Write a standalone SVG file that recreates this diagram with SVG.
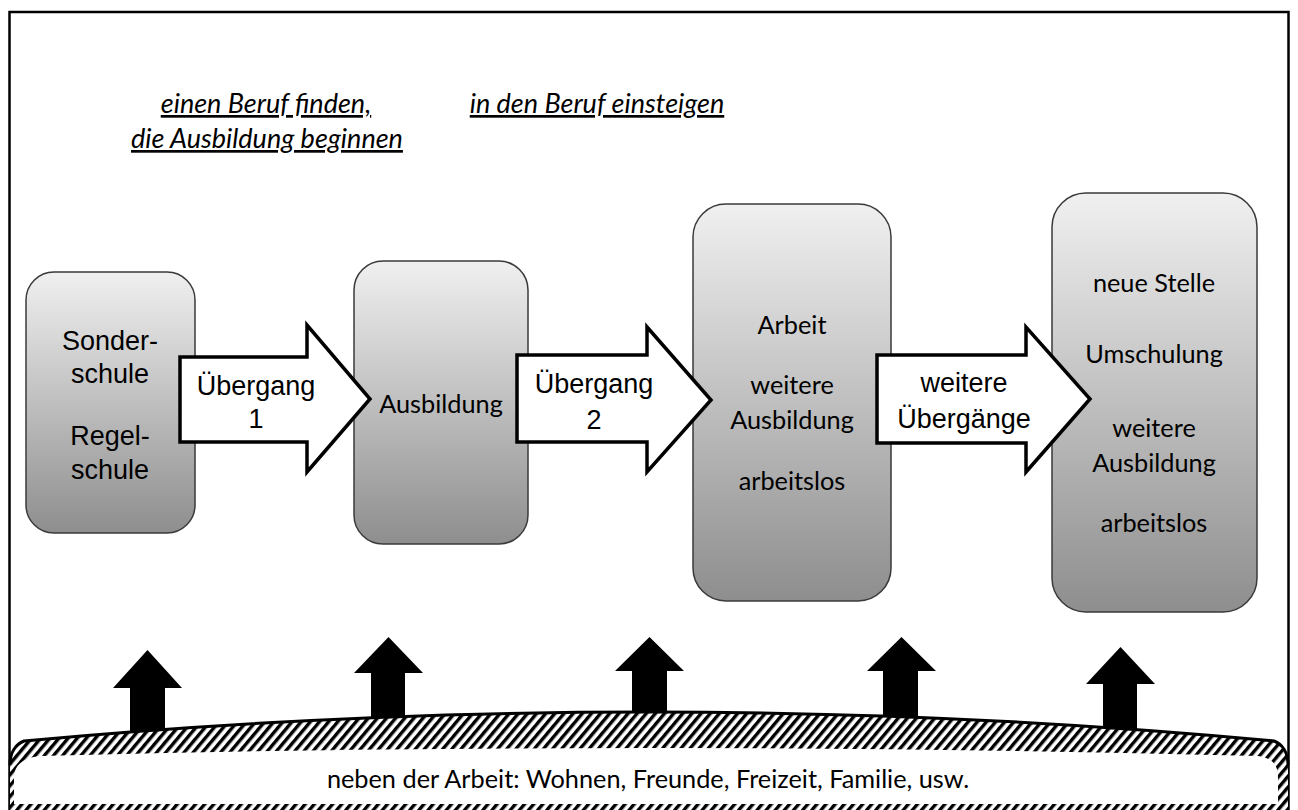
<svg xmlns="http://www.w3.org/2000/svg" width="1298" height="810" viewBox="0 0 1298 810">
<style>
.box{stroke:#3a3a3a;stroke-width:1.5;fill:url(#g)}
.arr{fill:#fff;stroke:#000;stroke-width:3.5;stroke-linejoin:miter}
.up{fill:#000}
.a{font-family:"Liberation Sans",Arial,sans-serif;font-size:27px;fill:#000;text-anchor:middle}
.c{font-family:Lato,"Open Sans",sans-serif;font-size:25.3px;fill:#000;text-anchor:middle}
.i{font-family:Lato,"Open Sans",sans-serif;font-style:italic;font-size:27px;fill:#000;text-anchor:middle;text-decoration:underline}
</style>
<defs>
<linearGradient id="g" x1="0" y1="0" x2="0" y2="1">
<stop offset="0" stop-color="#f0f0f0"/>
<stop offset="1" stop-color="#8e8e8e"/>
</linearGradient>
<pattern id="h" width="7" height="7" patternUnits="userSpaceOnUse" patternTransform="rotate(40)">
<rect width="7" height="7" fill="#fff"/>
<rect width="3.4" height="7" fill="#000"/>
</pattern>
</defs>
<rect x="0" y="0" width="1298" height="810" fill="#fff"/>
<rect id="frame" x="9.5" y="12" width="1279" height="810" fill="none" stroke="#000" stroke-width="2.5"/>
<g id="labels">
<text class="i" x="266" y="113">einen Beruf finden,</text>
<text class="i" x="267" y="148">die Ausbildung beginnen</text>
<text class="i" x="597" y="113">in den Beruf einsteigen</text>
</g>
<g id="n1">
<rect class="box" x="26" y="272" width="169" height="261" rx="28"/>
<text class="a" x="110" y="350">Sonder-</text>
<text class="a" x="110" y="383">schule</text>
<text class="a" x="110" y="445">Regel-</text>
<text class="a" x="110" y="479">schule</text>
</g>
<g id="n2">
<rect class="box" x="354" y="261" width="174" height="283" rx="29"/>
<text class="c" x="441" y="413">Ausbildung</text>
</g>
<g id="n3">
<rect class="box" x="693" y="204" width="198" height="397" rx="33"/>
<text class="c" x="792" y="334">Arbeit</text>
<text class="c" x="792" y="394">weitere</text>
<text class="c" x="792" y="429">Ausbildung</text>
<text class="c" x="792" y="490">arbeitslos</text>
</g>
<g id="n4">
<rect class="box" x="1052" y="193" width="205" height="419" rx="34"/>
<text class="c" x="1154" y="292">neue Stelle</text>
<text class="c" x="1154" y="363">Umschulung</text>
<text class="c" x="1154" y="437">weitere</text>
<text class="c" x="1154" y="472">Ausbildung</text>
<text class="c" x="1154" y="532">arbeitslos</text>
</g>
<g id="connectors">
<g id="t1">
<polygon class="arr" points="180,357 307,357 307,325 370,399 307,472 307,442 180,442"/>
<text class="a" x="256" y="395">Übergang</text>
<text class="a" x="256" y="428">1</text>
</g>
<g id="t2">
<polygon class="arr" points="517,355 647,355 647,327 711,400 647,472 647,442 517,442"/>
<text class="a" x="594" y="393">Übergang</text>
<text class="a" x="594" y="429">2</text>
</g>
<g id="t3">
<polygon class="arr" points="877,355 1026,355 1026,327 1090,399 1026,472 1026,443 877,443"/>
<text class="a" x="964" y="392">weitere</text>
<text class="a" x="964" y="428">Übergänge</text>
</g>
<polygon class="up" points="147.5,650 182,688 165,688 165,745 130,745 130,688 113,688"/>
<polygon class="up" points="388.5,637 423,673 405,673 405,730 371,730 371,673 354,673"/>
<polygon class="up" points="649.5,637 684,671 667,671 667,730 632,730 632,671 615,671"/>
<polygon class="up" points="901.5,637 936,671 918,671 918,730 883,730 883,671 867,671"/>
<polygon class="up" points="1120.5,647 1155,684 1137,684 1137,740 1103,740 1103,684 1086,684"/>
</g>
<g id="base">
<path d="M10,812 L10,765 C10,752 16,744 24,741 Q649,683 1274,741 C1282,744 1288,752 1288,765 L1288,812 Z" fill="url(#h)"/>
<path d="M10,765 C10,752 16,744 24,741 Q649,683 1274,741 C1282,744 1288,752 1288,765" fill="none" stroke="#000" stroke-width="3"/>
<path d="M14,804 L14,778 C14,764 24,758 40,756 Q649,740 1258,756 C1272,758 1278,764 1278,778 L1278,804 Z" fill="#fff"/>
<text class="c" x="648" y="788">neben der Arbeit: Wohnen, Freunde, Freizeit, Familie, usw.</text>
</g>
</svg>
